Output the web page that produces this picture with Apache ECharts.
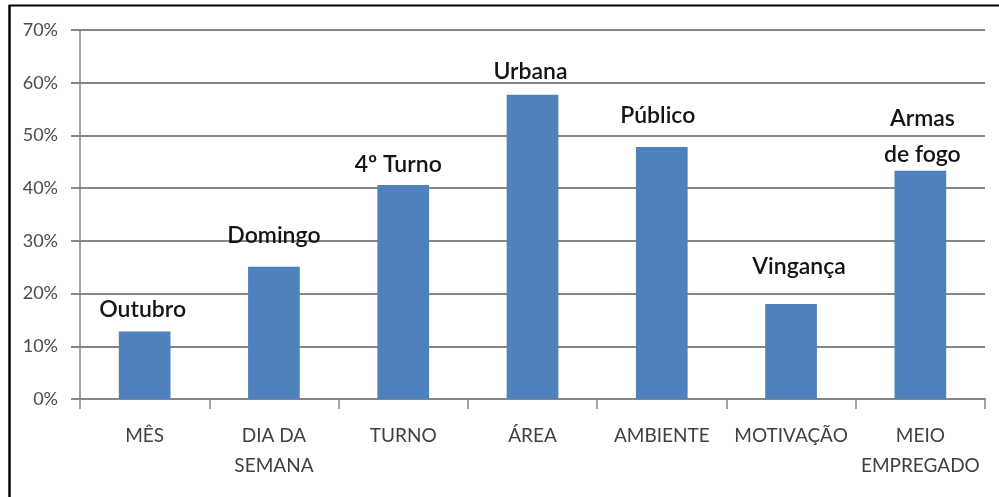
<!DOCTYPE html>
<html>
<head>
<meta charset="utf-8">
<script src="https://cdn.jsdelivr.net/npm/echarts@6/dist/echarts.min.js"></script>
<style>
  html, body { margin: 0; padding: 0; background: #fff; }
  #chart { width: 999px; height: 497px; }
</style>
</head>
<body>
<div id="chart"></div>
<script>
// Categories (x axis) and the share for each, as fractions
const categories = ['MÊS', 'DIA DA\nSEMANA', 'TURNO', 'ÁREA', 'AMBIENTE', 'MOTIVAÇÃO', 'MEIO\nEMPREGADO'];
const values = [0.128, 0.251, 0.406, 0.577, 0.478, 0.180, 0.433];
// Most frequent value within each category, written above its bar
const topLabels = ['Outubro', 'Domingo', '4º Turno', 'Urbana', 'Público', 'Vingança', 'Armas\nde fogo'];
// Y axis tick range
const yMin = 0, yMax = 0.7, yStep = 0.1;

// Hand placement of the annotation text above each bar: [dx, dy]
const labelNudges = [[-2, -4], [0, -13], [-5, -2], [-2, -5], [-4, -13], [8, -20], [2, 2]];

const chart = echarts.init(document.getElementById('chart'), null, { renderer: 'canvas' });

const gridColor = '#868686';
const fontFam = 'Lato, "Open Sans", "Liberation Sans", sans-serif';

chart.setOption({
  animation: false,
  backgroundColor: '#ffffff',
  grid: { left: 80, right: 14, top: 30, bottom: 98, containLabel: false },
  xAxis: {
    type: 'category',
    data: categories,
    axisLine: { show: true, lineStyle: { color: gridColor, width: 2 } },
    axisTick: { show: true, length: 10, alignWithLabel: false, lineStyle: { color: gridColor, width: 1.5 } },
    axisLabel: {
      interval: 0,
      margin: 22,
      color: '#404040',
      fontFamily: fontFam,
      fontSize: 19,
      lineHeight: 30
    }
  },
  yAxis: {
    type: 'value',
    min: yMin,
    max: yMax,
    interval: yStep,
    axisLine: { show: true, lineStyle: { color: gridColor, width: 1.5 } },
    axisTick: { show: true, length: 9, lineStyle: { color: gridColor, width: 2 } },
    splitLine: { show: true, lineStyle: { color: gridColor, width: 2 } },
    axisLabel: {
      margin: 22,
      color: '#4a4a4a',
      fontFamily: fontFam,
      fontSize: 18,
      formatter: v => Math.round(v * 100) + '%'
    }
  },
  series: [{
    type: 'bar',
    barWidth: '40%',
    itemStyle: { color: '#4f81bd' },
    data: values.map((v, i) => ({
      value: v,
      label: {
        show: true,
        position: 'top',
        distance: 0,
        offset: labelNudges[i],
        formatter: () => topLabels[i],
        color: '#141414',
        fontFamily: fontFam,
        fontWeight: 600,
        fontSize: 23,
        lineHeight: 36
      }
    }))
  }],
  graphic: [
    { type: 'line', shape: { x1: 9, y1: 5.5, x2: 999, y2: 5.5 }, style: { stroke: '#000', lineWidth: 2 } },
    { type: 'line', shape: { x1: 9.5, y1: 5, x2: 9.5, y2: 497 }, style: { stroke: '#000', lineWidth: 2.5 } }
  ]
});
</script>
</body>
</html>
